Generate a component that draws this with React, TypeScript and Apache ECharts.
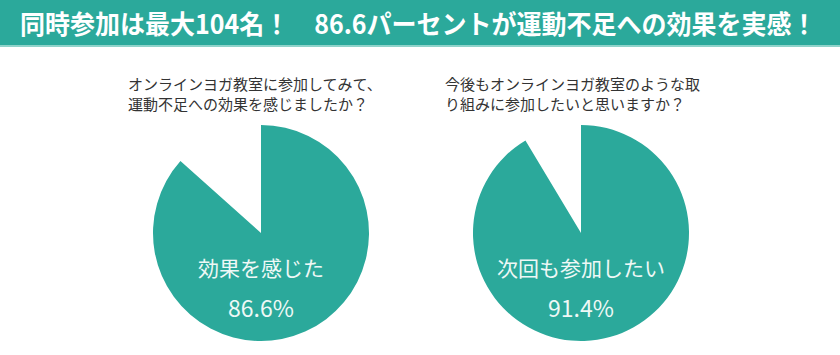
import React, { useEffect, useRef } from "react";
import * as echarts from "echarts";

const headline = "同時参加は最大104名！　86.6パーセントが運動不足への効果を実感！";
const questions = [
  ["オンラインヨガ教室に参加してみて、", "運動不足への効果を感じましたか？"],
  ["今後もオンラインヨガ教室のような取", "り組みに参加したいと思いますか？"],
];
const answerLabels = ["効果を感じた", "次回も参加したい"];
const positiveShares = [86.6, 91.4];
const restLabels = ["その他", "その他"];

const TEAL = "#2ba99b";
const FONT = "'Noto Sans CJK JP', 'Noto Sans', sans-serif";

export default function App() {
  const ref = useRef<HTMLDivElement>(null);
  useEffect(() => {
    if (!ref.current) return;
    const chart = echarts.init(ref.current, undefined, { renderer: "svg" });
    const centers = [261, 581];
    const qX = [128, 445];
    const cy = 233;
    const r = 108;

    const series = positiveShares.map((v, i) => ({
      type: "pie",
      center: [centers[i], cy],
      radius: r,
      startAngle: 90,
      clockwise: true,
      silent: true,
      label: { show: false },
      labelLine: { show: false },
      itemStyle: { borderWidth: 0 },
      emphasis: { disabled: true },
      data: [
        { name: answerLabels[i], value: v, itemStyle: { color: TEAL } },
        { name: restLabels[i], value: +(100 - v).toFixed(1), itemStyle: { color: "rgba(0,0,0,0)" } },
      ],
    }));

    const graphics: any[] = [
      { type: "rect", left: 0, top: 0, shape: { x: 0, y: 0, width: 840, height: 45 }, style: { fill: TEAL } },
      { type: "rect", left: 0, top: 45, shape: { x: 0, y: 0, width: 840, height: 2 }, style: { fill: "#8fd3ca" } },
      {
        type: "text",
        x: 20,
        y: 22,
        scaleY: 1.05,
        style: {
          text: headline,
          fill: "#ffffff",
          font: `bold 25px ${FONT}`,
          verticalAlign: "middle",
        },
      },
    ];
    questions.forEach((lines, i) => {
      lines.forEach((line, j) => {
        graphics.push({
          type: "text",
          x: qX[i],
          y: 83 + j * 20,
          style: { text: line, fill: "#333333", font: `15px ${FONT}`, verticalAlign: "middle" },
        });
      });
      graphics.push({
        type: "text",
        x: centers[i],
        y: 267,
        z: 10,
        style: { text: answerLabels[i], fill: "#eef8f6", font: `21px ${FONT}`, align: "center", verticalAlign: "middle" },
      });
      graphics.push({
        type: "text",
        x: centers[i],
        y: 307,
        z: 10,
        style: { text: `${positiveShares[i]}%`, fill: "#eef8f6", font: `23px ${FONT}`, align: "center", verticalAlign: "middle" },
      });
    });

    chart.setOption({
      animation: false,
      backgroundColor: "#ffffff",
      series,
      graphic: graphics,
    });
    return () => chart.dispose();
  }, []);
  return <div ref={ref} style={{ position: "absolute", left: 0, top: 0, width: 840, height: 355 }} />;
}
